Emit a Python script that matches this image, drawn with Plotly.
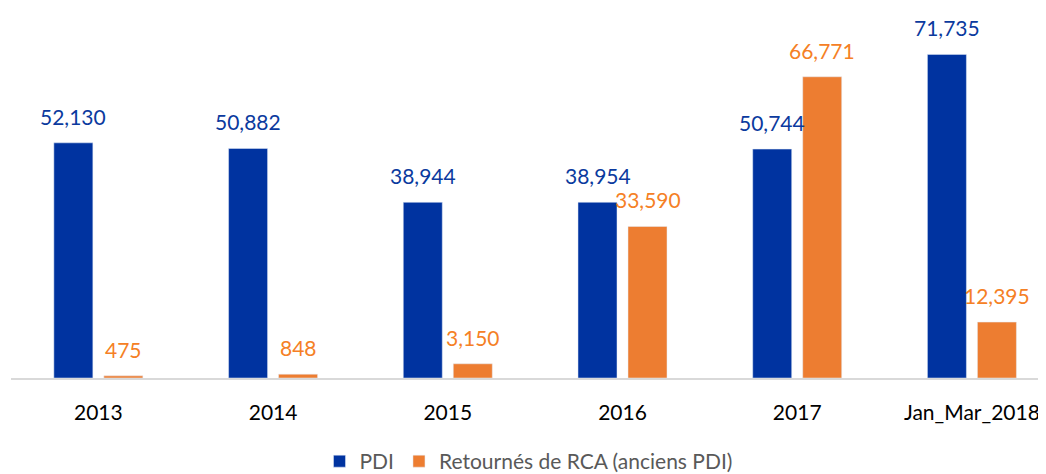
import plotly.graph_objects as go

categories = ["2013", "2014", "2015", "2016", "2017", "Jan_Mar_2018"]
pdi = [52130, 50882, 38944, 38954, 50744, 71735]
retournes = [475, 848, 3150, 33590, 66771, 12395]
series_names = ["PDI", "Retournés de RCA (anciens PDI)"]

BLUE = "#0033A0"
ORANGE = "#ED7D31"
BLUE_TXT = "#0B3A9E"
ORANGE_TXT = "#F58025"
FONT = "Lato"

fig = go.Figure()
fig.add_trace(go.Bar(x=categories, y=pdi, name=series_names[0], marker_color=BLUE))
fig.add_trace(go.Bar(x=categories, y=retournes, name=series_names[1], marker_color=ORANGE))

annotations = []
for i, c in enumerate(categories):
    for vals, shift, col in ((pdi, -25, BLUE_TXT), (retournes, 25, ORANGE_TXT)):
        annotations.append(dict(
            x=i, y=vals[i], xref="x", yref="y", text=f"{vals[i]:,}",
            showarrow=False, xshift=shift, yshift=12, yanchor="bottom",
            font=dict(family=FONT, size=21, color=col)))

# page body has an 8px default margin: figure is sized/offset to compensate
fig.update_layout(
    width=1038, height=466,
    margin=dict(l=3, r=0, t=10, b=96, autoexpand=False),
    paper_bgcolor="white", plot_bgcolor="white",
    barmode="group", bargap=0.4276, bargroupgap=0.22,
    font=dict(family=FONT),
    showlegend=True,
    legend=dict(orientation="h", x=0.5, xanchor="center", y=-0.232, yanchor="middle",
                font=dict(family=FONT, size=21, color="#595959"),
                itemwidth=30, tracegroupgap=0),
    annotations=annotations,
    xaxis=dict(type="category", range=[-0.5, 5.424], showline=True, linecolor="#D9D9D9",
               linewidth=2, ticks="", automargin=False,
               tickfont=dict(family=FONT, size=21, color="black"),
               ticklabelstandoff=15, showgrid=False, zeroline=False),
    yaxis=dict(range=[0, 79800], visible=False, showgrid=False, zeroline=False,
               automargin=False),
)

fig.write_html("out.html")
